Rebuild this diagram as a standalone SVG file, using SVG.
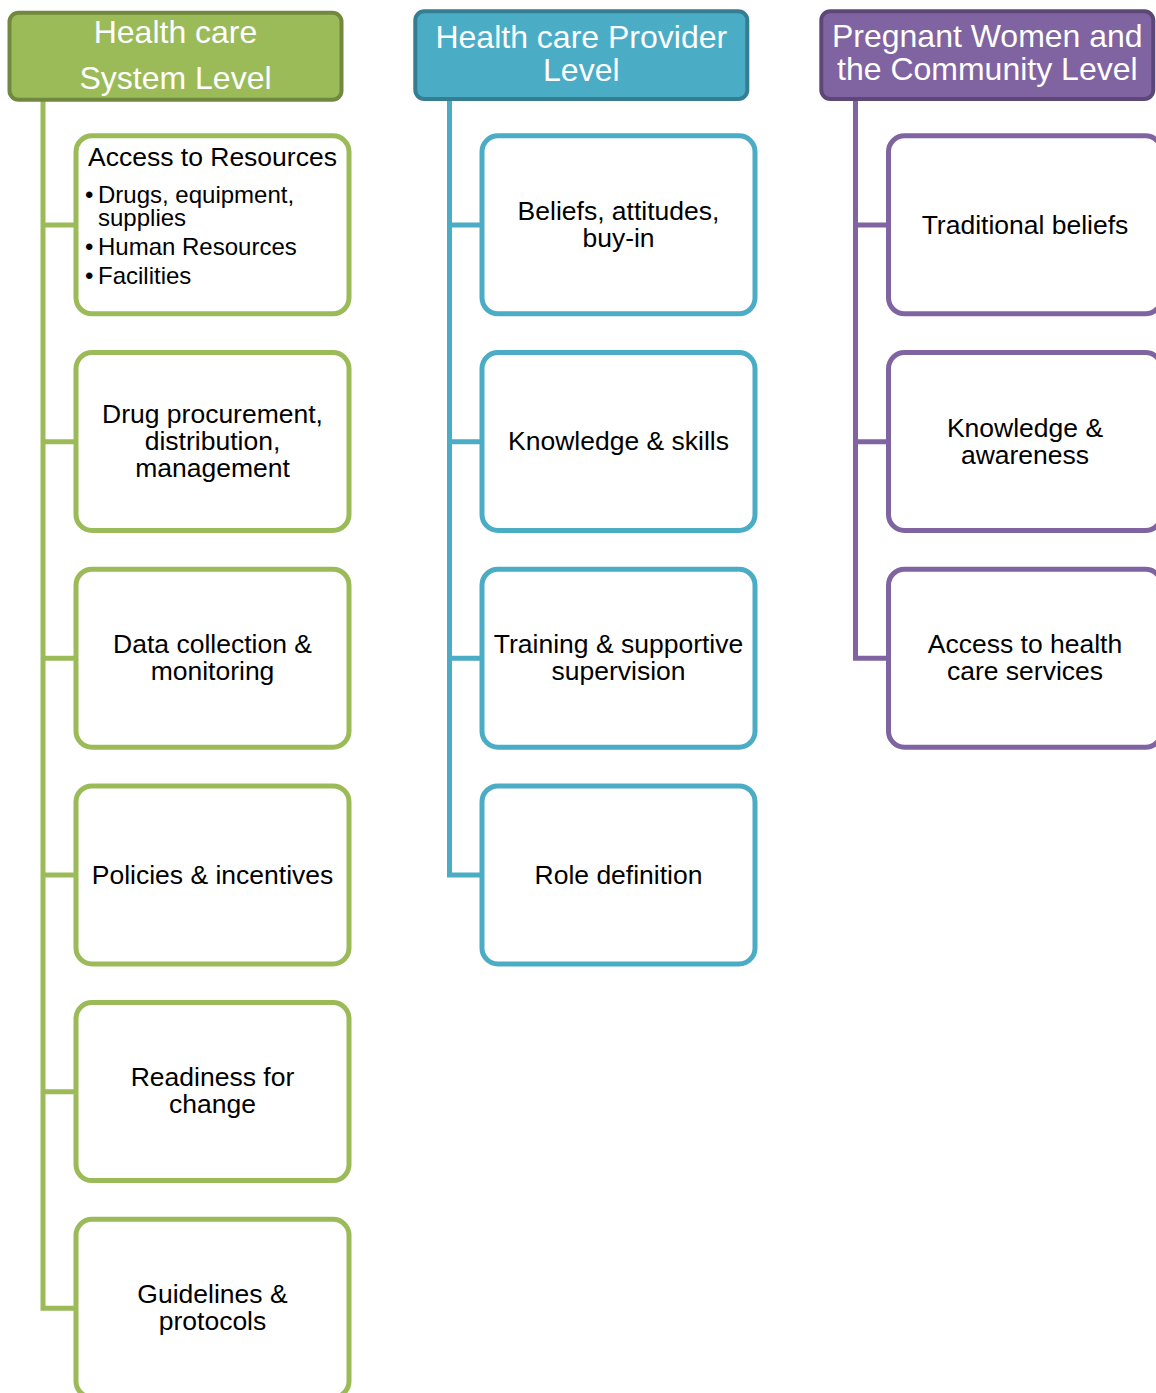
<svg xmlns="http://www.w3.org/2000/svg" width="1156" height="1393" viewBox="0 0 1156 1393">
<style>
text{font-family:"Liberation Sans",Arial,sans-serif}
.hd{font-size:32px;fill:#ffffff;text-anchor:middle}
.bt{font-size:26.5px;fill:#000000;text-anchor:middle}
.bl{font-size:24px;fill:#000000}
.box{fill:#ffffff;stroke-width:5}
.hdr{stroke-width:4}
.g{stroke:#9BBB59}.b{stroke:#4BACC6}.p{stroke:#8064A2}
.ln{fill:none;stroke-width:5;stroke-linejoin:miter;stroke-linecap:butt}
</style>
<rect width="1156" height="1393" fill="#ffffff"/>
<g id="connectors">
<path class="ln g" d="M43,101 V1308.3 H76 M43,225 H76 M43,441.7 H76 M43,658.3 H76 M43,875 H76 M43,1091.7 H76"/>
<path class="ln b" d="M449.5,101 V875 H482 M449.5,225 H482 M449.5,441.7 H482 M449.5,658.3 H482"/>
<path class="ln p" d="M855.5,101 V658.3 H888.5 M855.5,225 H888.5 M855.5,441.7 H888.5"/>
</g>
<g id="header-system">
<rect class="hdr" x="9.5" y="12.7" width="332" height="87" rx="9" fill="#9BBB59" stroke="#71893F"/>
<text class="hd" x="175.5" y="43.3">Health care</text>
<text class="hd" x="175.5" y="89.3">System Level</text>
</g>
<g id="header-provider">
<rect class="hdr" x="415.3" y="11.3" width="332" height="87.7" rx="9" fill="#4BACC6" stroke="#357D91"/>
<text class="hd" x="581.3" y="48">Health care Provider</text>
<text class="hd" x="581.3" y="81">Level</text>
</g>
<g id="header-community">
<rect class="hdr" x="821.3" y="11.3" width="332" height="87.7" rx="9" fill="#8064A2" stroke="#5C4776"/>
<text class="hd" x="987.3" y="47">Pregnant Women and</text>
<text class="hd" x="987.3" y="80">the Community Level</text>
</g>
<g id="sys-access">
<rect class="box g" x="76" y="135.8" width="273" height="178" rx="16"/>
<text class="bt" x="88" y="166" style="text-anchor:start">Access to Resources</text>
<text class="bl" x="85" y="203">•</text><text class="bl" x="98" y="203">Drugs, equipment,</text>
<text class="bl" x="98" y="226">supplies</text>
<text class="bl" x="85" y="255">•</text><text class="bl" x="98" y="255">Human Resources</text>
<text class="bl" x="85" y="284">•</text><text class="bl" x="98" y="284">Facilities</text>
</g>
<g id="sys-drug">
<rect class="box g" x="76" y="352.5" width="273" height="178" rx="16"/>
<text class="bt" x="212.5" y="423">Drug procurement,</text>
<text class="bt" x="212.5" y="450">distribution,</text>
<text class="bt" x="212.5" y="477">management</text>
</g>
<g id="sys-data">
<rect class="box g" x="76" y="569.2" width="273" height="178" rx="16"/>
<text class="bt" x="212.5" y="652.8">Data collection &amp;</text>
<text class="bt" x="212.5" y="679.8">monitoring</text>
</g>
<g id="sys-policies">
<rect class="box g" x="76" y="785.9" width="273" height="178" rx="16"/>
<text class="bt" x="212.5" y="883.5">Policies &amp; incentives</text>
</g>
<g id="sys-readiness">
<rect class="box g" x="76" y="1002.6" width="273" height="178" rx="16"/>
<text class="bt" x="212.5" y="1086">Readiness for</text>
<text class="bt" x="212.5" y="1113">change</text>
</g>
<g id="sys-guidelines">
<rect class="box g" x="76" y="1219.3" width="273" height="178" rx="16"/>
<text class="bt" x="212.5" y="1303">Guidelines &amp;</text>
<text class="bt" x="212.5" y="1330">protocols</text>
</g>
<g id="prov-beliefs">
<rect class="box b" x="482" y="135.8" width="273" height="178" rx="16"/>
<text class="bt" x="618.5" y="219.5">Beliefs, attitudes,</text>
<text class="bt" x="618.5" y="246.5">buy-in</text>
</g>
<g id="prov-knowledge">
<rect class="box b" x="482" y="352.5" width="273" height="178" rx="16"/>
<text class="bt" x="618.5" y="450">Knowledge &amp; skills</text>
</g>
<g id="prov-training">
<rect class="box b" x="482" y="569.2" width="273" height="178" rx="16"/>
<text class="bt" x="618.5" y="652.8">Training &amp; supportive</text>
<text class="bt" x="618.5" y="679.8">supervision</text>
</g>
<g id="prov-role">
<rect class="box b" x="482" y="785.9" width="273" height="178" rx="16"/>
<text class="bt" x="618.5" y="883.5">Role definition</text>
</g>
<g id="comm-traditional">
<rect class="box p" x="888.5" y="135.8" width="273" height="178" rx="16"/>
<text class="bt" x="1025" y="233.5">Traditional beliefs</text>
</g>
<g id="comm-knowledge">
<rect class="box p" x="888.5" y="352.5" width="273" height="178" rx="16"/>
<text class="bt" x="1025" y="436.5">Knowledge &amp;</text>
<text class="bt" x="1025" y="463.5">awareness</text>
</g>
<g id="comm-access">
<rect class="box p" x="888.5" y="569.2" width="273" height="178" rx="16"/>
<text class="bt" x="1025" y="652.8">Access to health</text>
<text class="bt" x="1025" y="679.8">care services</text>
</g>
</svg>
